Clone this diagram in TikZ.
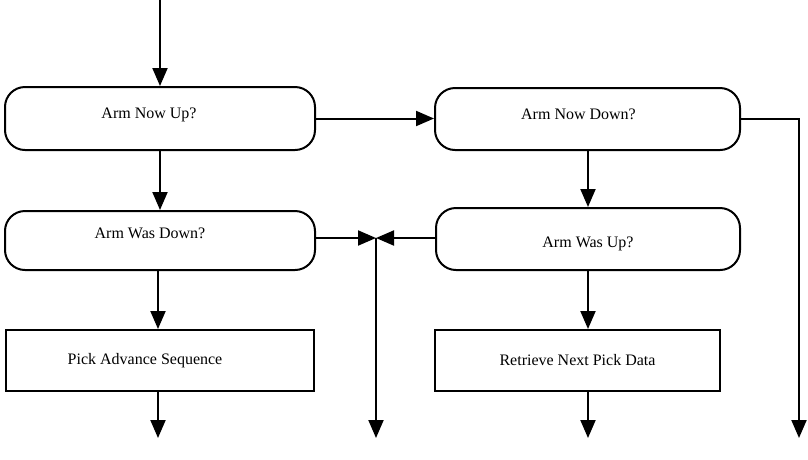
\documentclass[tikz,border=0pt]{standalone}
\usepackage{fontspec}
\setmainfont{Liberation Serif}
\usetikzlibrary{arrows.meta}
\tikzset{
  query/.style={draw, line width=2pt, rounded corners=20pt, inner sep=0pt, text height=11pt, font=\fontsize{16}{18}\selectfont},
  action/.style={draw, line width=2pt, inner sep=0pt, font=\fontsize{16}{18}\selectfont},
  flow/.style={line width=2pt, -{Triangle[length=18pt,width=15pt]}},
}
\begin{document}
\begin{tikzpicture}[x=1pt,y=-1pt]
  \useasboundingbox (0,0) rectangle (808,459);

  \node[query, minimum width=310pt, minimum height=63pt, text depth=11pt] (nowup) at (160,118.5) {Arm Now Up?\hspace*{22pt}};
  \node[query, minimum width=305pt, minimum height=62pt, text depth=11pt] (nowdown) at (587.5,119) {Arm Now Down?\hspace*{18pt}};
  \node[query, minimum width=310pt, minimum height=59pt, text depth=16pt] (wasdown) at (160,240.5) {Arm Was Down?\hspace*{20pt}};
  \node[query, minimum width=304pt, minimum height=62pt, text height=17pt, text depth=0pt] (wasup) at (588,239) {Arm Was Up?};
  \node[action, minimum width=308pt, minimum height=61pt] (advance) at (160,360.5) {Pick Advance Sequence\hspace*{30pt}};
  \node[action, minimum width=285pt, minimum height=61pt] (retrieve) at (577.5,360.5) {Retrieve Next Pick Data};

  \coordinate (entry) at (160,0);
  \coordinate (merge) at (376,238);
  \coordinate (outA) at (158,438);
  \coordinate (outB) at (376,438);
  \coordinate (outC) at (588,438);
  \coordinate (outD) at (799,438);

  \draw[flow] (entry) -- (nowup);
  \draw[flow] (nowup) -- (nowdown.west |- nowup.east);
  \draw[flow] (nowup) -- (wasdown);
  \draw[flow] (nowdown.south -| wasup) -- (wasup);
  \draw[flow] (wasdown.south -| outA) -- (advance.north -| outA);
  \draw[flow] (wasup) -- (wasup |- retrieve.north);
  \draw[flow] (wasdown.east |- merge) -- (merge);
  \draw[flow] (wasup.west |- merge) -- (merge);
  \draw[flow] (merge) -- (outB);
  \draw[flow] (advance.south -| outA) -- (outA);
  \draw[flow] (retrieve.south -| outC) -- (outC);
  \draw[flow] (nowdown.east) -| (outD);
\end{tikzpicture}
\end{document}
